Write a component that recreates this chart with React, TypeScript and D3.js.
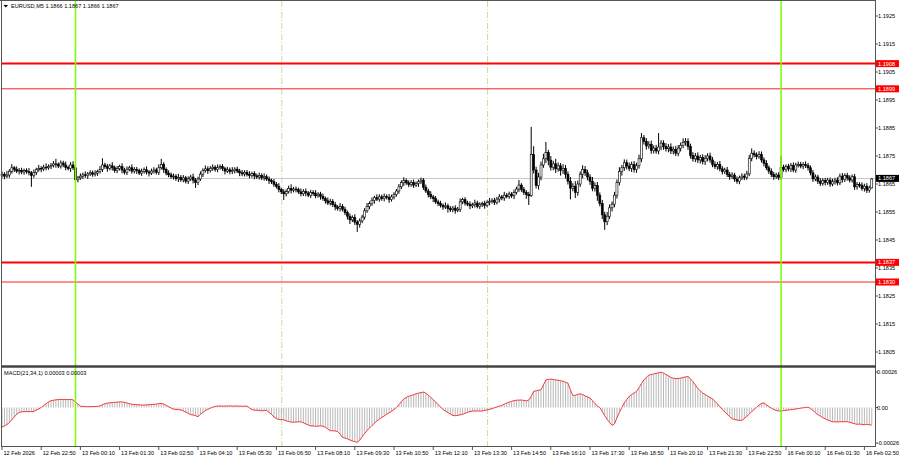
import React from 'react';
import * as d3 from 'd3';

// closes in pips above 1.1800
const closes = [
68.5,67.8,68.2,69.5,70.8,70.2,69.6,69.9,69.3,69.8,
69.4,69.0,68.0,69.2,70.1,70.6,70.4,71.0,70.8,71.3,
71.7,72.2,72.0,71.4,72.5,71.8,70.9,70.5,71.8,70.8,
66.5,67.2,67.8,68.3,68.0,68.6,69.0,68.5,68.9,69.4,
70.2,71.8,71.2,70.6,71.5,70.8,69.8,70.5,71.2,70.0,
69.2,70.3,70.8,69.6,70.2,69.8,68.9,69.5,70.1,69.3,
68.9,69.6,70.0,69.2,70.8,72.0,70.2,68.9,68.3,67.6,
67.8,66.9,67.4,66.5,67.2,66.0,66.8,67.5,66.4,65.5,
66.8,68.5,69.9,70.4,69.8,70.6,71.0,70.2,70.8,71.2,
70.5,69.6,70.1,69.4,69.8,70.3,69.6,69.0,68.6,69.2,
68.4,68.0,68.7,67.9,67.5,68.1,67.2,67.6,66.8,66.2,
65.8,64.9,64.1,63.0,62.2,61.5,62.3,63.4,62.8,63.2,
63.0,62.2,61.5,62.4,61.8,61.0,62.0,61.6,60.8,61.4,
60.6,59.8,59.0,58.2,58.8,57.6,56.8,56.2,57.0,56.0,
54.8,53.5,52.2,53.0,51.4,50.6,51.8,53.2,55.4,57.0,
58.0,59.2,60.1,59.6,60.4,59.8,60.6,60.2,59.5,60.4,
61.2,62.5,64.0,65.5,66.2,65.4,64.8,65.6,64.6,65.2,
65.8,66.4,63.8,62.5,61.2,60.4,59.8,58.6,58.0,57.4,
56.8,57.2,56.2,55.8,56.4,55.6,56.0,58.6,59.4,58.2,
57.8,57.2,57.6,58.2,57.0,57.6,58.0,57.4,58.4,58.8,
59.2,58.4,59.6,60.4,60.0,61.0,60.6,61.4,60.8,62.0,
63.2,64.6,63.0,62.0,61.2,60.8,75.5,70.0,64.5,67.5,
71.8,74.0,76.2,73.5,71.0,72.2,70.4,71.5,69.8,70.6,
68.5,66.0,63.5,64.2,62.0,65.0,68.5,70.2,69.0,67.5,
66.0,63.5,64.5,61.0,58.0,54.0,51.5,53.5,56.5,57.8,
61.0,65.5,69.5,70.8,72.6,71.4,70.6,72.0,70.2,71.5,
74.0,81.5,80.2,78.6,79.2,77.0,77.8,76.8,78.2,79.6,
78.4,77.6,78.2,76.8,77.4,76.0,77.8,78.8,79.8,80.2,
78.4,75.2,74.0,75.0,73.6,74.4,73.0,74.2,75.0,73.6,
72.0,71.2,72.0,70.4,69.4,70.0,68.4,67.6,68.2,66.8,
66.0,67.2,67.8,67.4,68.6,74.2,76.0,75.4,74.8,75.6,
73.6,72.4,70.8,69.6,68.4,67.6,68.2,67.4,71.0,70.2,
71.2,70.4,71.6,70.0,71.8,72.0,71.4,72.0,71.6,70.8,
69.0,66.8,67.5,66.0,65.2,66.2,65.6,66.4,65.0,65.8,
66.4,65.4,67.8,66.6,68.0,67.2,66.4,67.6,64.0,64.8,
64.6,63.4,64.2,62.8,63.6,66.8
];
const firstOpen = 68.0;

const upperWicks = [
1.0,0.7,1.5,0.8,1.3,0.6,1.1,0.8,0.9,0.7,
0.8,1.3,0.6,1.0,0.7,1.2,0.8,0.9,1.4,0.7,
0.8,1.0,1.8,0.7,0.9,0.8,1.2,0.7,1.0,1.3,
0.8,0.7,1.0,0.8,1.2,0.7,0.9,0.8,1.0,0.7,
1.2,2.4,0.8,1.0,0.7,1.3,0.8,0.9,0.7,1.2,
0.8,1.0,0.7,1.2,0.8,0.9,0.7,1.0,0.8,1.2,
0.7,0.9,1.0,0.8,1.2,2.0,0.8,0.7,1.0,0.8,
0.9,0.7,1.2,0.8,1.0,0.7,0.9,0.8,1.2,0.7,
0.8,1.0,0.7,1.2,0.9,0.8,1.0,0.7,1.2,0.8,
0.9,0.7,1.0,0.8,1.2,0.7,0.9,0.8,1.0,0.7,
0.8,1.2,0.7,0.9,0.8,1.0,0.7,1.2,0.8,0.9,
0.7,1.0,0.8,1.2,0.7,0.9,0.8,1.0,1.5,0.8,
0.9,0.7,1.2,0.8,1.0,0.7,0.9,0.8,1.2,0.7,
0.8,1.0,0.7,1.2,0.9,0.8,1.0,0.7,1.2,0.8,
0.9,0.7,1.0,0.8,1.2,0.7,0.9,0.8,1.0,1.2,
0.8,1.0,0.7,1.2,0.9,0.8,1.0,0.7,1.2,0.8,
0.9,0.7,1.0,0.8,1.2,0.7,0.9,0.8,1.0,0.7,
0.8,0.9,0.7,1.0,0.8,1.2,0.7,0.9,0.8,1.0,
0.7,1.2,0.8,0.9,0.7,1.0,0.8,1.2,0.7,0.9,
0.8,1.0,0.7,1.2,0.8,0.9,0.7,1.0,0.8,1.2,
0.7,0.9,0.8,1.0,0.7,1.2,0.8,0.9,0.7,1.0,
0.8,1.8,0.7,0.9,0.8,1.0,9.9,3.0,1.2,1.5,
1.2,1.8,3.8,1.0,1.5,1.1,1.8,1.2,1.0,1.5,
1.2,1.0,1.5,1.1,1.8,1.2,1.0,1.5,1.2,1.1,
1.0,1.5,1.1,1.2,1.0,1.3,1.1,1.5,1.2,1.0,
1.2,1.1,1.5,1.0,1.2,1.1,1.3,1.0,1.2,1.1,
1.5,1.7,1.0,1.2,1.1,1.3,1.0,1.2,5.0,1.1,
1.0,1.2,1.1,1.3,1.0,1.2,1.1,1.0,1.5,1.2,
1.1,1.0,1.2,1.1,1.3,1.0,1.2,1.1,1.0,1.2,
1.0,1.1,0.9,1.2,1.0,0.8,1.1,0.9,1.0,0.8,
0.9,0.8,1.0,0.9,1.1,1.2,1.7,1.0,0.9,1.1,
1.0,0.9,1.1,0.8,1.0,0.9,0.8,1.0,4.0,0.9,
0.8,1.0,0.9,1.1,0.8,1.0,0.9,0.8,1.1,0.9,
0.8,1.0,0.9,0.8,1.1,0.9,1.0,0.8,0.9,1.1,
0.8,1.0,0.9,1.1,0.8,1.0,0.9,0.8,1.0,0.9,
0.8,1.0,0.9,1.1,0.8,0.3
];

const lowerWicks = [
0.8,1.1,0.7,1.0,0.8,0.9,0.7,1.2,0.8,1.0,
0.7,0.9,4.0,0.8,1.0,0.7,1.2,0.8,0.9,0.7,
1.0,0.8,1.2,0.7,0.9,0.8,1.0,0.7,1.2,0.8,
1.1,0.9,0.7,1.0,0.8,1.2,0.7,0.9,0.8,1.0,
0.7,0.9,0.8,1.2,0.7,1.0,0.8,0.9,0.7,1.2,
0.8,1.0,0.7,0.9,0.8,1.2,0.7,1.0,0.8,0.9,
1.2,0.7,0.9,0.8,1.0,0.7,1.2,0.8,0.9,0.7,
1.0,0.8,1.2,0.7,0.9,0.8,1.0,0.7,1.2,1.9,
0.9,0.7,1.0,0.8,1.2,0.7,0.9,0.8,1.0,0.7,
0.8,1.2,0.7,0.9,0.8,1.0,0.7,1.2,0.8,0.9,
0.7,1.0,0.8,1.2,0.7,0.9,0.8,1.0,0.7,1.2,
0.8,0.9,0.7,1.0,0.8,2.2,0.9,0.7,1.2,0.8,
1.0,0.7,0.9,0.8,1.2,0.7,1.0,0.8,0.9,0.7,
1.2,0.8,1.0,0.7,0.9,0.8,1.2,0.7,1.0,0.8,
0.9,1.2,1.5,0.8,1.0,2.7,1.2,0.8,0.9,0.7,
1.0,0.8,1.2,0.7,0.9,0.8,1.0,0.7,1.2,0.8,
0.9,0.7,1.0,0.8,1.2,0.7,0.9,0.8,1.0,0.7,
1.2,0.8,0.9,0.7,1.0,0.8,1.2,0.7,0.9,0.8,
1.0,0.7,1.4,0.8,0.9,1.2,0.7,1.0,0.8,0.9,
0.7,1.2,0.8,1.0,0.7,0.9,0.8,1.2,0.7,1.0,
0.8,0.9,0.7,1.2,0.8,1.0,0.7,0.9,0.8,1.2,
0.7,1.0,0.8,0.9,1.5,3.3,0.4,1.2,1.1,1.5,
1.2,1.0,1.5,1.8,1.2,1.1,1.5,1.0,1.8,1.2,
1.5,1.2,4.0,1.1,2.0,1.2,1.0,1.5,1.1,1.2,
1.3,1.1,1.2,2.0,1.0,1.5,2.9,1.2,1.0,1.3,
1.1,1.2,1.0,1.5,1.1,1.2,1.0,1.3,1.1,1.2,
1.0,1.2,1.1,1.3,1.0,1.2,1.1,1.0,1.2,1.1,
1.2,1.0,1.3,1.1,1.2,1.0,1.1,1.2,1.0,1.1,
1.2,1.1,1.0,1.2,1.1,1.3,1.0,1.2,1.1,1.0,
1.0,0.8,1.1,0.9,1.0,0.8,0.9,1.1,0.8,1.0,
0.9,1.1,0.8,1.0,0.9,0.8,1.1,0.9,1.0,0.8,
0.9,1.1,0.8,1.0,0.9,1.1,0.8,1.0,0.9,0.8,
1.0,0.9,1.1,0.8,1.0,0.9,0.8,1.1,0.9,1.0,
0.9,1.1,0.8,1.0,0.9,0.8,1.1,0.9,1.0,0.8,
1.0,0.9,0.8,1.1,0.9,1.0,0.8,0.9,1.1,1.0,
0.9,0.8,1.1,1.0,0.9,0.2
];

// MACD main values in units of 0.00001
const macd = [
-14.4,-13.5,-12.5,-11,-9,-7,-5,-3.6,-3.2,-3,
-3,-3,-3,-2.8,-2,-1,0,1.5,2.8,4,
5,5.3,5.6,5.8,5.9,5.8,5.8,5.8,5.9,5.6,
3.9,2.5,1,0.8,0.7,0.6,0.6,0.7,0.7,0.8,
1.2,2,2.8,3.2,3.4,3.6,3.8,3.9,4.1,4.1,
3.8,3.3,2.8,2.4,2.2,2,2,1.8,1.8,2,
2,2.2,2.3,2.5,2.8,2.9,2.6,1.6,0.6,-0.4,
-1.2,-1.4,-1.5,-1.8,-2.5,-3.4,-4.3,-5.2,-5.5,-6,
-6.7,-5,-3.5,-2.2,-1.4,-0.5,0.2,0.8,1,1.1,
1,1,1.1,1.2,1,1,1.1,1,0.9,1,
1,-0.3,-1.5,-2,-2,-2.2,-2.4,-2.3,-2.2,-3.5,
-5,-7,-8.2,-8.7,-8.9,-9,-9.7,-10.3,-10.6,-10.8,
-10.6,-10.5,-10.5,-11.2,-12,-12.8,-13.5,-13.5,-13.8,-13.6,
-13.5,-13.6,-14.5,-15.8,-17,-17,-17.2,-17.6,-19.5,-21.9,
-22.4,-23,-23.8,-24.5,-25,-25.5,-24,-21.5,-19,-17,
-15,-13.2,-11.5,-9.9,-8.5,-7.3,-6.2,-5,-3.9,-2.8,
-1.5,0,2,4.2,6.3,7.4,8.2,8.8,9.4,10,
10.5,10.9,11.3,10.5,9,7.4,5.8,4,2.2,0.4,
-1.4,-2.6,-3.7,-4.8,-5.8,-6,-5.8,-5.4,-5,-4.3,
-3.6,-3,-2.6,-2.6,-2.5,-2.6,-2.6,-2.2,-1.8,-1.4,
-0.8,-0.2,0.4,1,1.6,2.4,3.2,3.9,4.5,5,
5.4,5.4,5.5,5.2,4.8,5.5,8,11.8,12.2,12.6,
13,16.5,20.2,20.6,20.8,20.5,20.2,20,19.6,19.2,
18.5,17.8,13,8.7,9,9.6,10,9.5,8.5,7.8,
7,5,3,1,0,-3,-6,-8.7,-11,-13,
-12,-7.5,-3.5,0,3.4,6,8.2,9.5,10.6,11.8,
14.5,17.5,20.2,22,23.8,24.2,24.6,25,25.4,25.8,
25.2,24.2,23.2,22,21.4,21.2,21.3,21.5,22,22.4,
22.6,21,19,16.5,14,12.2,10.6,9.5,8.4,7.3,
6.3,4.6,2.8,0.6,-1.4,-3.2,-5,-6.7,-8.2,-8.8,
-9.2,-9.4,-9.4,-8,-6.5,-4.8,-3,-1.4,0.2,1.8,
3,3.4,2,0.7,-0.5,-1.5,-2.2,-2.5,-2.6,-2.3,
-2,-1.8,-1.6,-1.4,-1.1,-0.8,-0.5,-0.2,0,0.2,
-0.8,-2.2,-3.8,-5.2,-6.3,-7.4,-8.3,-9.2,-9.8,-10.4,
-10.5,-10.6,-10.4,-10.5,-10.4,-10.4,-10.8,-11.4,-11.9,-12.3,
-12.1,-12.4,-12.6,-12.3,-12.7,-12.8
];

const timeLabels = [
"12 Feb 2026","12 Feb 22:50","13 Feb 00:10","13 Feb 01:30","13 Feb 02:50","13 Feb 04:10",
"13 Feb 05:30","13 Feb 06:50","13 Feb 08:10","13 Feb 09:30","13 Feb 10:50","13 Feb 12:10",
"13 Feb 13:30","13 Feb 14:50","13 Feb 16:10","13 Feb 17:30","13 Feb 18:50","13 Feb 20:10",
"13 Feb 21:30","13 Feb 22:50","16 Feb 00:10","16 Feb 01:30","16 Feb 02:50"
];
const labelEvery = 16;

const priceTicks = [1.1925,1.1915,1.1905,1.1895,1.1885,1.1875,1.1865,1.1855,1.1845,1.1835,1.1825,1.1815,1.1805];
const thickLevels = [1.1908, 1.1837];
const thinLevels = [1.1899, 1.1830];
const currentPrice = 1.1867;
const macdTicks = [0.00026, 0, -0.00026];
const macdTickLabels = ["0.00026", "0.00", "-0.00026"];
const dayStartBars = [30, 318];
const sessionBars = [114, 198];
const titleText = "EURUSD,M5  1.1866 1.1867 1.1866 1.1867";
const macdTitle = "MACD(21,34,1) 0.00003 0.00003";

const W = 900, H = 460;
const FONT = "'Liberation Sans', Arial, sans-serif";
const FS = 5.6;

export default function App() {
  const n = closes.length;
  const x = d3.scaleLinear().domain([0, n - 1]).range([2, 2 + (n - 1) * 2.45]);
  const y = d3.scaleLinear().domain([1.1805, 1.1925]).range([352, 16]);
  const ym = d3.scaleLinear().domain([-0.00026, 0.00026]).range([443, 372]);
  const px = (v: number) => 1.18 + v / 10000;

  const candles = closes.map((c, i) => {
    const o = i === 0 ? firstOpen : closes[i - 1];
    const h = Math.max(o, c) + upperWicks[i];
    const l = Math.min(o, c) - lowerWicks[i];
    return { i, o: px(o), c: px(c), h: px(h), l: px(l) };
  });

  const macdLine = d3.line<number>()
    .x((_, i) => x(i))
    .y((v) => ym(v / 100000));

  const plotR = 875;
  const fmt = d3.format(".4f");

  return (
    <svg width={W} height={H} style={{ position: 'absolute', left: 0, top: 0, background: '#fff' }}
      fontFamily={FONT}>
      <rect x={0} y={0} width={W} height={H} fill="#fff" />
      {sessionBars.map((b) => (
        <line key={'s' + b} x1={x(b) + 0.5} x2={x(b) + 0.5} y1={1} y2={446}
          stroke="#c6dca0" strokeWidth={1} strokeDasharray="6,2,1,2" />
      ))}
      <line x1={2} x2={plotR} y1={Math.round(y(currentPrice)) + 0.5} y2={Math.round(y(currentPrice)) + 0.5}
        stroke="#c8c8c8" strokeWidth={1} />
      {thinLevels.map((p) => (
        <line key={'t' + p} x1={2} x2={plotR} y1={y(p)} y2={y(p)} stroke="#ff2020" strokeWidth={1} />
      ))}
      {thickLevels.map((p) => (
        <line key={'k' + p} x1={2} x2={plotR} y1={y(p)} y2={y(p)} stroke="#ff0000" strokeWidth={2} />
      ))}
      {candles.map((d) => {
        const cx = x(d.i);
        const top = y(Math.max(d.o, d.c));
        const bot = y(Math.min(d.o, d.c));
        const bull = d.c >= d.o;
        return (
          <g key={d.i}>
            <line x1={cx} x2={cx} y1={y(d.h)} y2={y(d.l)} stroke="#000" strokeWidth={1} />
            <rect x={cx - 1} y={top} width={2} height={Math.max(0.8, bot - top)}
              fill={bull ? '#fff' : '#000'} stroke="#000" strokeWidth={0.6} />
          </g>
        );
      })}
      {macd.map((v, i) => {
        const y0 = ym(0), y1 = ym(v / 100000);
        return <rect key={'m' + i} x={x(i) - 0.5} y={Math.min(y0, y1)} width={1}
          height={Math.abs(y1 - y0)} fill="#b8b8b8" />;
      })}
      <path d={macdLine(macd) || ''} fill="none" stroke="#f03a3a" strokeWidth={1} />
      {dayStartBars.map((b) => (
        <line key={'d' + b} x1={x(b)} x2={x(b)} y1={1} y2={447} stroke="#7cfc00" strokeWidth={1.5} />
      ))}
      <line x1={1.5} x2={1.5} y1={0} y2={447} stroke="#555" strokeWidth={1} />
      <line x1={0} x2={plotR} y1={0.5} y2={0.5} stroke="#555" strokeWidth={1} />
      <line x1={plotR + 0.5} x2={plotR + 0.5} y1={0} y2={447} stroke="#555" strokeWidth={1} />
      <line x1={1} x2={plotR + 1} y1={366.5} y2={366.5} stroke="#444" strokeWidth={2.5} />
      <line x1={1} x2={plotR + 1} y1={446.5} y2={446.5} stroke="#555" strokeWidth={1} />
      <path d="M3.5,5 L8,5 L5.75,7.5 Z" fill="#000" />
      <text x={11} y={8.3} fontSize={FS} fill="#000">{titleText}</text>
      <text x={4} y={375} fontSize={FS} fill="#000">{macdTitle}</text>
      {priceTicks.map((p) => (
        <g key={'p' + p}>
          <line x1={plotR} x2={plotR + 3} y1={y(p)} y2={y(p)} stroke="#555" />
          <text x={878} y={y(p) + 2} fontSize={FS} fill="#000">{fmt(p)}</text>
        </g>
      ))}
      {[...thickLevels, ...thinLevels].map((p) => (
        <g key={'lb' + p}>
          <rect x={876} y={y(p) - 3.5} width={23} height={7} fill="#ff0000" />
          <text x={878} y={y(p) + 2} fontSize={FS} fill="#fff">{fmt(p)}</text>
        </g>
      ))}
      <rect x={876} y={y(currentPrice) - 3.5} width={23} height={7} fill="#000" />
      <text x={878} y={y(currentPrice) + 2} fontSize={FS} fill="#fff">{fmt(currentPrice)}</text>
      {macdTicks.map((t, k) => (
        <g key={'mt' + k}>
          <line x1={plotR} x2={plotR + 3} y1={ym(t)} y2={ym(t)} stroke="#555" />
          <text x={877} y={ym(t) + 2} fontSize={FS} fill="#000">{macdTickLabels[k]}</text>
        </g>
      ))}
      {timeLabels.map((lab, k) => {
        const tx = x(k * labelEvery);
        return (
          <g key={'tl' + k}>
            <line x1={tx} x2={tx} y1={447} y2={450} stroke="#555" />
            <text x={tx + 1.5} y={454.5} fontSize={FS} fill="#000">{lab}</text>
          </g>
        );
      })}
    </svg>
  );
}
